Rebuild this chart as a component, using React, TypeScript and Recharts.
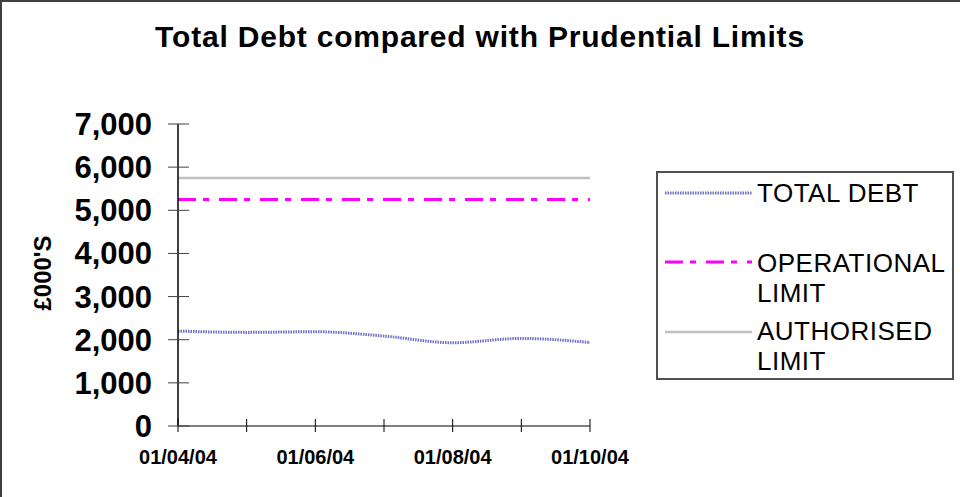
import { LineChart, Line, XAxis, YAxis } from "recharts";

const months = ["01/04/04", "01/05/04", "01/06/04", "01/07/04", "01/08/04", "01/09/04", "01/10/04"];
const totalDebt = [2200, 2170, 2185, 2085, 1930, 2030, 1935];
const operationalLimit = [5250, 5250, 5250, 5250, 5250, 5250, 5250];
const authorisedLimit = [5750, 5750, 5750, 5750, 5750, 5750, 5750];
const yTicks = [0, 1000, 2000, 3000, 4000, 5000, 6000, 7000];

const data = months.map((m, i) => ({
  month: m,
  debt: totalDebt[i],
  operational: operationalLimit[i],
  authorised: authorisedLimit[i],
}));

const FONT = "'Liberation Sans', Arial, sans-serif";

const YTick = (props: any) => {
  const { x, y, payload } = props;
  return (
    <g>
      <line x1={x - 10} x2={x + 11} y1={y} y2={y} stroke="#404040" strokeWidth={1} />
      <text x={x - 26} y={y} dy={11} textAnchor="end" fontFamily={FONT} fontWeight="bold" fontSize={31} fill="#000">
        {payload.value.toLocaleString("en-GB")}
      </text>
    </g>
  );
};

const XTick = (props: any) => {
  const { x, y, payload, index } = props;
  return (
    <g>
      <line x1={x} x2={x} y1={y - 7} y2={y + 6} stroke="#000" strokeWidth={1} />
      {index % 2 === 0 && (
        <text x={x} y={y + 38} textAnchor="middle" fontFamily={FONT} fontWeight="bold" fontSize={20} fill="#000">
          {payload.value}
        </text>
      )}
    </g>
  );
};

// legend rows: line y and text baselines inside the legend box
const legendItems = [
  { lines: ["TOTAL DEBT"], y: 20, base: [29], stroke: "#7070c8", dash: "1.5 1", width: 3 },
  { lines: ["OPERATIONAL", "LIMIT"], y: 89, base: [99, 129], stroke: "#ff00ff", dash: "18 7 6 10", width: 3 },
  { lines: ["AUTHORISED", "LIMIT"], y: 159, base: [167, 197], stroke: "#c0c0c0", dash: undefined, width: 2.5 },
];

export default function App() {
  return (
    <div
      style={{
        position: "fixed",
        left: 0,
        top: 0,
        width: 960,
        height: 497,
        background: "#fff",
        overflow: "hidden",
      }}
    >
      <div style={{ position: "absolute", left: 0, top: 0, width: 960, height: 2, background: "#404040" }} />
      <div style={{ position: "absolute", left: 0, top: 0, width: 2, height: 497, background: "#404040" }} />
      <div
        style={{
          position: "absolute",
          left: 0,
          top: 0,
          width: 960,
          textAlign: "center",
          fontFamily: FONT,
          fontWeight: "bold",
          fontSize: 30,
          letterSpacing: 0.8,
          lineHeight: "30px",
          paddingTop: 22,
        }}
      >
        Total Debt compared with Prudential Limits
      </div>
      <div
        style={{
          position: "absolute",
          left: 43 - 60,
          top: 273 - 14,
          width: 120,
          height: 28,
          transform: "rotate(-90deg)",
          textAlign: "center",
          fontFamily: FONT,
          fontWeight: "bold",
          fontSize: 24,
          lineHeight: "28px",
        }}
      >
        £000'S
      </div>
      <div style={{ position: "absolute", left: 0, top: 0 }}>
        <LineChart width={700} height={497} data={data} margin={{ top: 124, right: 110, bottom: 0, left: 0 }}>
          <XAxis
            dataKey="month"
            interval={0}
            padding={{ left: 0, right: 0 }}
            height={71}
            tickSize={0}
            tickMargin={0}
            tickLine={false}
            tick={<XTick />}
            axisLine={{ stroke: "#808080", strokeWidth: 2 }}
          />
          <YAxis
            domain={[0, 7000]}
            ticks={yTicks}
            interval={0}
            width={178}
            tickSize={0}
            tickMargin={0}
            tickLine={false}
            tick={<YTick />}
            axisLine={{ stroke: "#000", strokeWidth: 1.5 }}
          />
          <Line
            dataKey="authorised"
            stroke="#c0c0c0"
            strokeWidth={2.5}
            dot={false}
            isAnimationActive={false}
          />
          <Line
            dataKey="operational"
            stroke="#ff00ff"
            strokeWidth={3}
            strokeDasharray="18 7 6 10"
            dot={false}
            isAnimationActive={false}
          />
          <Line
            type="monotone"
            dataKey="debt"
            stroke="#7070c8"
            strokeWidth={3}
            strokeDasharray="1.5 1"
            dot={false}
            isAnimationActive={false}
          />
        </LineChart>
      </div>
      <div
        style={{
          position: "absolute",
          left: 656,
          top: 171,
          width: 298,
          height: 209,
          border: "2px solid #505050",
          boxSizing: "border-box",
        }}
      >
        <svg width={294} height={205} style={{ position: "absolute", left: 0, top: 0 }}>
          {legendItems.map((it) => (
            <g key={it.lines[0]}>
              <line
                x1={7}
                x2={94}
                y1={it.y}
                y2={it.y}
                stroke={it.stroke}
                strokeWidth={it.width}
                strokeDasharray={it.dash}
              />
              {it.lines.map((l, j) => (
                <text
                  key={l}
                  x={99}
                  y={it.base[j]}
                  fontFamily={FONT}
                  fontSize={26}
                  letterSpacing={0.5}
                  fill="#000"
                >
                  {l}
                </text>
              ))}
            </g>
          ))}
        </svg>
      </div>
    </div>
  );
}
